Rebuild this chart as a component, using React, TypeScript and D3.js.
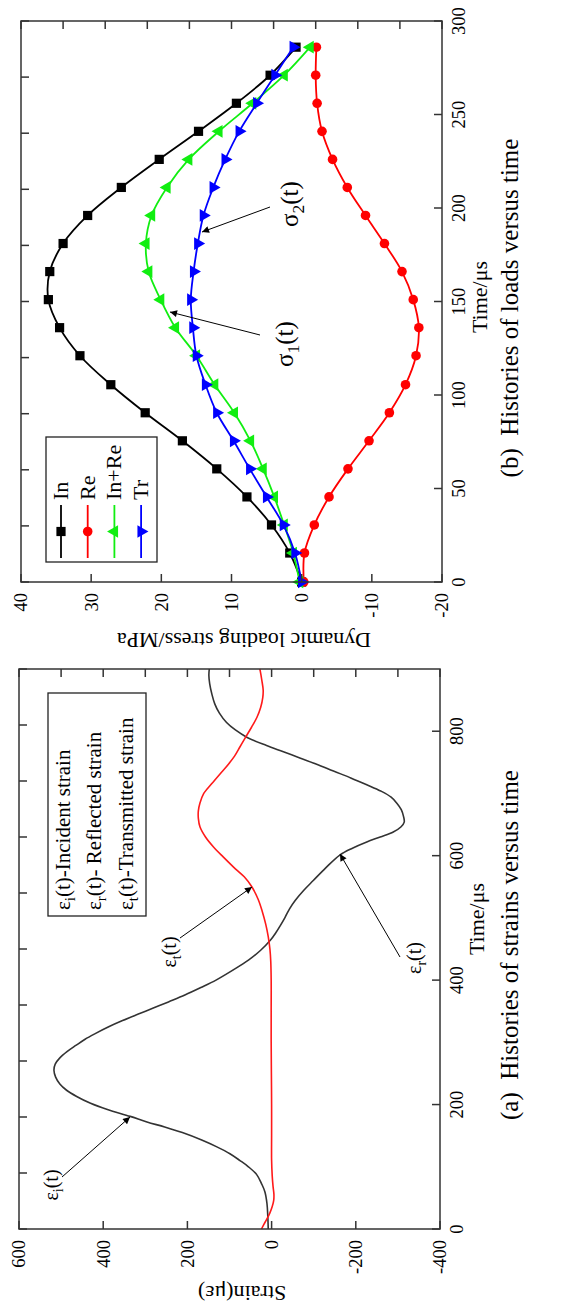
import React from 'react';
import * as d3 from 'd3';

// ---------- Panel (a): strain histories ----------
const strainTimeTicks = [0, 200, 400, 600, 800];
const strainValueTicks = [600, 400, 200, 0, -200, -400];

// black curve: incident + reflected strain signal (time µs, strain µε)
const incidentReflected: [number, number][] = [
  [0, 8], [20, 9], [41, 11], [60, 16], [73, 24], [87, 35], [100, 55], [110, 75], [121, 99],
  [132, 130], [143, 166], [155, 212], [164, 254], [172, 296], [181, 336], [192, 390], [202, 430],
  [213, 463], [223, 487], [233, 503], [244, 513], [255, 517], [265, 514], [275, 503], [285, 486],
  [295, 465], [305, 443], [314, 419], [325, 387], [335, 354], [345, 318], [355, 281], [365, 245],
  [376, 206], [388, 168], [400, 132], [416, 92], [432, 55], [448, 26], [464, 3], [476, -10],
  [488, -21], [501, -32], [515, -43], [528, -56], [544, -76], [560, -99], [580, -128], [601, -162],
  [612, -192], [622, -226], [630, -258], [638, -289], [646, -307], [654, -315], [664, -313],
  [674, -308], [684, -298], [694, -284], [704, -259], [714, -226], [725, -188], [736, -147],
  [747, -107], [757, -67], [767, -28], [777, 12], [790, 58], [802, 86], [814, 107], [829, 124],
  [844, 135], [860, 142], [876, 147], [890, 149], [900, 148],
];

// red curve: transmitted strain
const transmitted: [number, number][] = [
  [0, 24], [8, 18], [15, 12], [26, 4], [36, -1.5], [46, -5], [56, -5.5], [68, -3.5], [85, -1.5],
  [111, 0], [150, 0], [200, 0], [250, 0.5], [300, 1], [350, 1], [400, 1], [430, 2], [450, 4],
  [470, 8], [490, 14], [510, 22], [530, 32], [550, 47], [566, 65], [582, 91], [598, 115],
  [614, 138], [630, 157], [646, 170], [660, 174], [672, 174], [685, 170], [699, 162], [715, 143],
  [731, 123], [745, 105], [760, 88], [775, 75], [790, 62], [806, 48], [822, 35], [838, 26],
  [854, 21], [866, 20], [881, 23], [897, 27], [900, 28],
];

// ---------- Panel (b): load histories ----------
const loadTimeTicks = [0, 50, 100, 150, 200, 250, 300];
const stressTicks = [40, 30, 20, 10, 0, -10, -20];
const loadTimes = [0, 15.5, 30.5, 45.5, 60.5, 75.5, 90.5, 105.5, 121, 136, 151, 166, 181, 196, 211, 226, 241, 256, 271, 286];
const stressIn = [0, 1.7, 4.3, 7.8, 12.1, 17.0, 22.3, 27.2, 31.6, 34.5, 36.1, 35.9, 34.0, 30.5, 25.7, 20.3, 14.7, 9.3, 4.5, 0.8];
const stressRe = [-0.3, -0.4, -1.8, -3.9, -6.6, -9.6, -12.5, -14.8, -16.3, -16.7, -15.9, -14.3, -11.8, -9.1, -6.5, -4.4, -2.9, -2.2, -2.0, -2.1];
const stressInRe = [0.3, 1.2, 2.5, 3.9, 5.5, 7.3, 9.6, 12.4, 15.0, 18.0, 20.1, 21.8, 22.2, 21.4, 19.2, 16.1, 11.8, 7.0, 2.5, -1.2];
const stressTr = [0, 0.95, 2.6, 5.0, 7.4, 9.7, 12.1, 13.7, 15.0, 15.5, 15.8, 15.4, 14.8, 14.0, 12.6, 10.9, 8.9, 6.4, 3.8, 1.2];
const loadNames = ['In', 'Re', 'In+Re', 'Tr'];

const FONT = '"Liberation Serif", "Times New Roman", Times, serif';
const FRAME = '#333';

type Sc = d3.ScaleLinear<number, number>;

function Frame({ x, y, bottom, top, left, right }: { x: Sc; y: Sc; bottom: number[]; top: number[]; left: number[]; right: number[] }) {
  const [x0, x1] = x.range();
  const [y1, y0] = y.range();
  const L = 8;
  return (
    <g stroke={FRAME} strokeWidth={1.5} fill="none">
      <rect x={x0} y={y0} width={x1 - x0} height={y1 - y0} />
      {bottom.map((t) => <line key={'b' + t} x1={x(t)} x2={x(t)} y1={y1} y2={y1 - L} />)}
      {top.map((t) => <line key={'t' + t} x1={x(t)} x2={x(t)} y1={y0} y2={y0 + L} />)}
      {left.map((v) => <line key={'l' + v} x1={x0} x2={x0 + L} y1={y(v)} y2={y(v)} />)}
      {right.map((v) => <line key={'r' + v} x1={x1} x2={x1 - L} y1={y(v)} y2={y(v)} />)}
    </g>
  );
}

function Eps({ x, y, sub, rest, size = 20, anchor = 'start' }: { x: number; y: number; sub: string; rest: string; size?: number; anchor?: string }) {
  return (
    <text x={x} y={y} fontSize={size} textAnchor={anchor as any} fill="#000" style={{ whiteSpace: 'pre' }}>
      ε<tspan dy={size * 0.25} fontSize={size * 0.7}>{sub}</tspan>
      <tspan dy={-size * 0.25}>{rest}</tspan>
    </text>
  );
}

function Sigma({ x, y, sub, size = 25 }: { x: number; y: number; sub: string; size?: number }) {
  return (
    <text x={x} y={y} fontSize={size} fill="#000">
      σ<tspan dy={size * 0.25} fontSize={size * 0.7}>{sub}</tspan>
      <tspan dy={-size * 0.25}>(t)</tspan>
    </text>
  );
}

function Marker({ kind, cx, cy, color }: { kind: number; cx: number; cy: number; color: string }) {
  if (kind === 0) return <rect x={cx - 4.6} y={cy - 4.6} width={9.2} height={9.2} fill={color} />;
  if (kind === 1) return <circle cx={cx} cy={cy} r={4.8} fill={color} />;
  const p = d3.symbol(d3.symbolTriangle, 70)() as string;
  return <path d={p} transform={`translate(${cx},${cy}) rotate(${kind === 2 ? 0 : 180})`} fill={color} />;
}

export default function App() {
  // original (landscape) coordinate system 1306 x 562, rotated into the portrait page
  const ax = d3.scaleLinear().domain([0, 900]).range([77, 637]);
  const ay = d3.scaleLinear().domain([-400, 600]).range([440, 19]);
  const bx = d3.scaleLinear().domain([0, 300]).range([724, 1285]);
  const by = d3.scaleLinear().domain([-20, 40]).range([442, 21]);

  const curveA = d3.line<[number, number]>().x((d) => ax(d[0])).y((d) => ay(d[1])).curve(d3.curveCatmullRom.alpha(0.5));
  const series = [stressIn, stressRe, stressInRe, stressTr];
  const colors = ['#000000', '#ff0000', '#11ee11', '#0000ff'];
  const lineB = (vals: number[]) =>
    d3.line<number>().x((_, i) => bx(loadTimes[i])).y((v) => by(v)).curve(d3.curveCatmullRom.alpha(0.5))(vals) as string;

  const arrows: [number, number, number, number][] = [
    [129, 62, 189, 130],
    [368, 180, 419, 252],
    [349, 400, 452, 340],
    [1099, 270, 1074, 202],
    [971, 260, 994, 170],
  ];

  return (
    <svg width={562} height={1306} style={{ position: 'absolute', left: 0, top: 0, background: '#fff', display: 'block' }} fontFamily={FONT}>
      <defs>
        <marker id="ah" viewBox="0 0 10 10" refX={10} refY={5} markerWidth={11} markerHeight={7} markerUnits="userSpaceOnUse" orient="auto">
          <path d="M0,0 L10,5 L0,10 z" fill="#000" />
        </marker>
      </defs>
      <rect x={0} y={0} width={562} height={1306} fill="#fff" />
      <g transform="translate(0,1306) rotate(-90)">
        {/* ---------- Panel (a) ---------- */}
        <path d={curveA(incidentReflected) as string} fill="none" stroke="#333" strokeWidth={1.6} />
        <path d={curveA(transmitted) as string} fill="none" stroke="#ff1a1a" strokeWidth={1.6} />
        <Frame x={ax} y={ay} bottom={strainTimeTicks} top={d3.range(0, 901, 90)} left={strainValueTicks} right={d3.range(-400, 601, 100)} />
        {strainTimeTicks.map((t) => (
          <text key={t} x={ax(t)} y={463} fontSize={18.5} textAnchor="middle">{t}</text>
        ))}
        {strainValueTicks.map((v) => (
          <text key={v} x={66} y={ay(v)} dy="0.35em" fontSize={18.5} textAnchor="end">{v}</text>
        ))}
        <text x={387} y={484} fontSize={22} textAnchor="middle">Time/μs</text>
        <text transform="translate(20,242) rotate(-90)" fontSize={22} textAnchor="middle">Strain(με)</text>
        <text x={361} y={518} fontSize={25} textAnchor="middle" style={{ whiteSpace: 'pre' }}>(a)  Histories of strains versus time</text>
        <rect x={390} y={48} width={223} height={98} fill="#fff" stroke="#222" strokeWidth={1.3} />
        <Eps x={396} y={70} sub="i" rest="(t)-Incident strain" size={21} />
        <Eps x={396} y={101} sub="r" rest="(t)- Reflected strain" size={21} />
        <Eps x={396} y={133} sub="t" rest="(t)-Transmitted strain" size={21} />
        <Eps x={121} y={58} sub="i" rest="(t)" anchor="middle" />
        <Eps x={354} y={176} sub="t" rest="(t)" anchor="middle" />
        <Eps x={348} y={421} sub="r" rest="(t)" anchor="middle" />

        {/* ---------- Panel (b) ---------- */}
        {series.map((vals, k) => (
          <g key={k}>
            <path d={lineB(vals)} fill="none" stroke={colors[k]} strokeWidth={1.8} />
            {vals.map((v, i) => <Marker key={i} kind={k} cx={bx(loadTimes[i])} cy={by(v)} color={colors[k]} />)}
          </g>
        ))}
        <Frame x={bx} y={by} bottom={loadTimeTicks} top={d3.range(0, 301, 30)} left={stressTicks} right={d3.range(-20, 41, 6)} />
        {loadTimeTicks.map((t) => (
          <text key={t} x={bx(t)} y={465} fontSize={18.5} textAnchor="middle">{t}</text>
        ))}
        {stressTicks.map((v) => (
          <text key={v} x={713} y={by(v)} dy="0.35em" fontSize={18.5} textAnchor="end">{v}</text>
        ))}
        <text x={1009} y={487} fontSize={22} textAnchor="middle">Time/μs</text>
        <text transform="translate(673,244) rotate(-90)" fontSize={22} textAnchor="middle">Dynamic loading stress/MPa</text>
        <text x={998} y={518} fontSize={25} textAnchor="middle" style={{ whiteSpace: 'pre' }}>(b)  Histories of loads versus time</text>
        <rect x={744} y={46} width={125} height={111} fill="#fff" stroke="#222" strokeWidth={1.3} />
        {loadNames.map((n, k) => {
          const ry = 61 + k * 26.7;
          return (
            <g key={n}>
              <line x1={748} x2={801} y1={ry} y2={ry} stroke={colors[k]} strokeWidth={1.8} />
              <Marker kind={k} cx={774.5} cy={ry} color={colors[k]} />
              <text x={806} y={ry + 7} fontSize={22}>{n}</text>
            </g>
          );
        })}
        <Sigma x={1079} y={298} sub="2" />
        <Sigma x={939} y={293} sub="1" />

        {arrows.map((a, i) => (
          <line key={i} x1={a[0]} y1={a[1]} x2={a[2]} y2={a[3]} stroke="#000" strokeWidth={1} markerEnd="url(#ah)" />
        ))}
      </g>
    </svg>
  );
}
